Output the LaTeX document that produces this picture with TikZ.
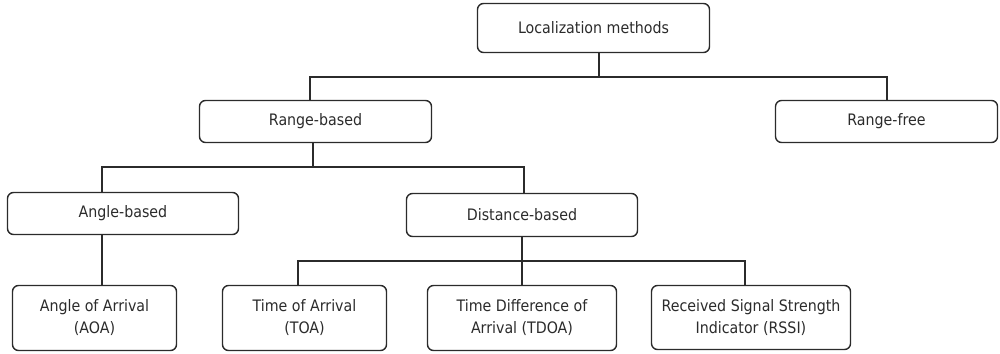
\documentclass[tikz,border=0pt]{standalone}
\usepackage{fontspec}
\setmainfont{DejaVu Sans Condensed}
\definecolor{ink}{HTML}{2B2B2B}
\tikzset{
  px/.style={x=1pt,y=-1pt},
  box/.style={draw=ink, text=ink, line width=1.4pt, rounded corners=6pt,
    align=center, inner sep=0pt, font=\fontsize{15.8}{22}\selectfont},
  link/.style={draw=ink, line width=1.4pt},
}
\begin{document}
\begin{tikzpicture}[px]
\useasboundingbox (0,0) rectangle (1000,353);
% boxes
\node[box, minimum width=232pt, minimum height=49pt] (loc)  at (593.5,28)  {Localization methods};
\node[box, minimum width=232pt, minimum height=42pt] (rb)   at (315.5,121.5) {Range-based};
\node[box, minimum width=222pt, minimum height=42pt] (rf)   at (886.5,121.5) {Range-free};
\node[box, minimum width=231pt, minimum height=42pt] (ang)  at (123,213.5) {Angle-based};
\node[box, minimum width=231pt, minimum height=43pt] (dist) at (522,215)   {Distance-based};
\node[box, minimum width=164pt, minimum height=65pt] (aoa)  at (94.5,318)  {Angle of Arrival\\(AOA)};
\node[box, minimum width=164pt, minimum height=65pt] (toa)  at (304.5,318) {Time of Arrival\\(TOA)};
\node[box, minimum width=189pt, minimum height=65pt] (tdoa) at (522,318)   {Time Difference of\\Arrival (TDOA)};
\node[box, minimum width=199pt, minimum height=64pt] (rssi) at (751,317.5) {Received Signal Strength\\Indicator (RSSI)};
% junction rails
\coordinate (j1) at (599,77);
\coordinate (j2) at (313,167);
\coordinate (j3) at (522,261);
% level 1
\draw[link] (loc.south -| j1) -- (j1);
\draw[link] (rb.north -| 310,0) |- (j1) -| (rf.north -| 887,0);
% level 2
\draw[link] (rb.south -| j2) -- (j2);
\draw[link] (ang.north -| 102,0) |- (j2) -| (dist.north -| 524,0);
% level 3
\draw[link] (ang.south -| 102,0) -- (aoa.north -| 102,0);
\draw[link] (dist.south -| j3) -- (tdoa.north -| j3);
\draw[link] (toa.north -| 298,0) |- (j3) -| (rssi.north -| 745,0);
\end{tikzpicture}
\end{document}
